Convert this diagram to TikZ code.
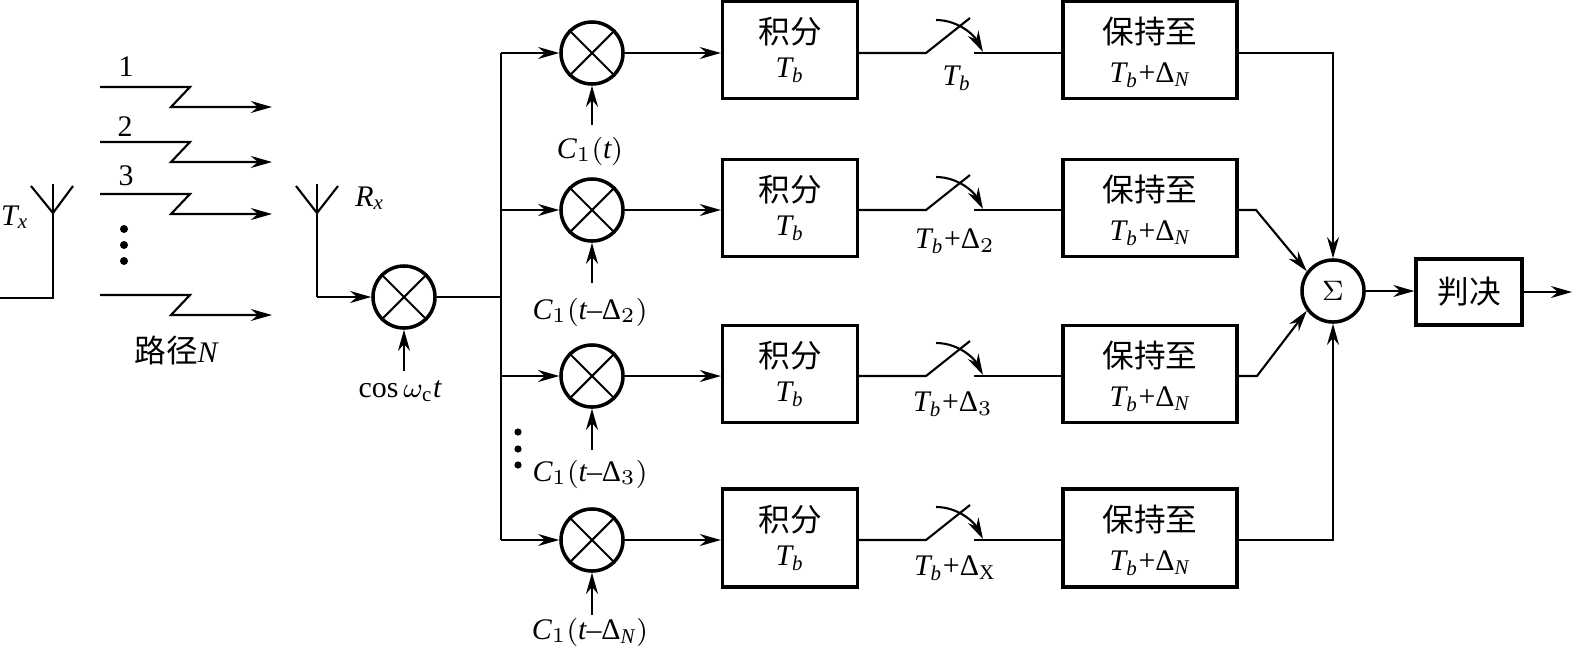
\documentclass[tikz,border=0pt]{standalone}
\usepackage{amsmath,amssymb}
\usepackage{fontspec}
\setmainfont{Liberation Serif}
\newfontfamily\cjk{Noto Sans CJK SC}
\usetikzlibrary{arrows.meta,calc}
\tikzset{
  sig/.style={line width=0.6pt, -{Stealth[length=6pt,width=3.4pt]}},
  wire/.style={line width=0.6pt},
  blockbox/.style={draw, line width=0.9pt, inner sep=0pt, align=center, font=\lbl},
  mixer/.style={draw, circle, line width=1pt, minimum size=0.62cm, inner sep=0pt},
  lab/.style={inner sep=0pt, font=\lbl},
}
\newcommand{\lbl}{\fontsize{8.5}{10.5}\selectfont}
\newcommand{\cjkb}{\cjk\fontsize{9}{10.5}\selectfont}
\newcommand{\tb}{\mathit{T}_{\mathit{b}}}
\newcommand{\dl}{\text{Δ}}
\newcommand{\pl}{\text{+}}
\newcommand{\mn}{\text{--}}
\newcommand{\strutb}{\rule{0pt}{9pt}}
\begin{document}
\begin{tikzpicture}[x=0.01cm, y=-0.01cm]
      \useasboundingbox (0,0) rectangle (1573,648);

      % Transmit antenna
      \coordinate (tx) at (53,213);
      \coordinate (txin) at (0,298);
      \draw[wire] (txin) -| (53,184);
      \draw[wire] (31,186) -- (tx) -- (73,186);
      \node[lab] (txlab) at (15,217) {$\mathit{T}_{\mathit{x}}$};

      % Paths
      \foreach \n/\y in {1/87,2/142,3/194,4/295} {
          \coordinate (p\n) at (100,\y);
          \draw[sig] (p\n) -- ++(90,0) -- ++(-19,20) -- ++(101,0);
        }
      \node[lab] (pl1) at (126,67) {1};
      \node[lab] (pl2) at (125,127) {2};
      \node[lab] (pl3) at (126,176) {3};
      \node[lab] (plN) at (176,350) {{\cjkb 路径}$\mathit{N}$};
      \foreach \t in {229,245,261} {
          \fill (124,\t) circle (4);
        }
      \foreach \t in {432,449,465} {
          \fill (518,\t) circle (3.6);
        }

      % Receive antenna and first mixer
      \coordinate (rx) at (317,213);
      \node[mixer] (m0) at (404,297) {};
      \draw[wire] (317,184) -- (317,297);
      \draw[wire] (296,186) -- (rx) -- (338,186);
      \draw[sig] (317,297) -- (m0.west);
      \node[lab] (rxlab) at (370,198) {$\mathit{R}_{\mathit{x}}$};
      \node[lab] (cos) at (400,391) {$\cos\omega_{\mathrm{c}}\mathit{t}$};
      \coordinate (ca0) at (404,371);
      \draw[sig] (ca0) -- (m0.south);
      \draw[wire] (m0.45) -- (m0.225) (m0.135) -- (m0.-45);

      % Bus
      \coordinate (bus) at (501,297);
      \coordinate (bustop) at (501,53);
      \coordinate (busbot) at (501,540);
      \draw[wire] (m0.east) -- (bus);
      \draw[wire] (bustop) -- (busbot);

      % Sum and decision
      \node[mixer] (sum) at (1333,291) {\lbl$\Sigma$};
      \node[blockbox, minimum width=1.06cm, minimum height=0.66cm] (dec) at (1469,292) {\cjkb 判决};
      \coordinate (out) at (1572,292);
      \draw[sig] (sum.east) -- (sum.east -| dec.west);
      \draw[sig] (dec.east) -- (out);

      % Rows
      \foreach \n/\y/\by/\bh/\sx/\sy/\slab/\cy/\ctop/\clab in {
          1/53/50/0.97/957/78/{\tb}/151/125/{\mathit{C}_1(\mathit{t})},
          2/210/208/0.97/955/241/{\tb\pl\dl_2}/312/283/{\mathit{C}_1(\mathit{t}\mn\dl_2)},
          3/376/374/0.97/953/404/{\tb\pl\dl_3}/474/450/{\mathit{C}_1(\mathit{t}\mn\dl_3)},
          4/540/538/0.98/955/568/{\tb\pl\dl_{\mathrm{X}}}/632/615/{\mathit{C}_1(\mathit{t}\mn\dl_{\mathit{N}})}} {
          \node[mixer] (m\n) at (592,\y) {};
          \draw[wire] (m\n.45) -- (m\n.225) (m\n.135) -- (m\n.-45);
          \node[blockbox, minimum width=1.35cm, minimum height=\bh cm] (int\n) at (790,\by)
            {{\cjkb 积分}\\[-1pt]$\tb$};
          \node[blockbox, minimum width=1.74cm, minimum height=\bh cm] (hold\n) at (1150,\by)
            {\strutb{\cjkb 保持至}\\[0.5pt]$\tb\pl\dl_{\mathit{N}}$};
          \node[lab] (cl\n) at (590,\cy) {$\clab$};
          \node[lab] (sl\n) at (\sx,\sy) {$\slab$};
          \coordinate (ca\n) at (592,\ctop);
          \coordinate (sa\n) at (926,\y);
          \coordinate (sb\n) at (970,\y-35);
          \coordinate (sc\n) at (974,\y);
          \draw[sig] (bus |- m\n) -- (m\n.west);
          \draw[sig] (ca\n) -- (m\n.south);
          \draw[sig] (m\n.east) -- (m\n.east -| int\n.west);
          \draw[wire] (int\n.east |- m\n) -- (sa\n) -- (sb\n);
          \draw[wire] (sc\n) -- (sc\n -| hold\n.west);
          \draw[sig] ($(sa\n)+(10,-33)$) .. controls ($(sa\n)+(32,-33)$) and ($(sa\n)+(48,-18)$) .. ($(sa\n)+(57,-1)$);
        }

      % Into the sum
      \draw[sig] (hold1.east |- m1) -| (sum.north);
      \draw[sig] (hold4.east |- m4) -| (sum.south);
      \draw[sig] (hold2.east |- m2) -- (1256,210) -- (sum.143);
      \draw[sig] (hold3.east |- m3) -- (1257,376) -- (sum.217);
    \end{tikzpicture}
\end{document}
